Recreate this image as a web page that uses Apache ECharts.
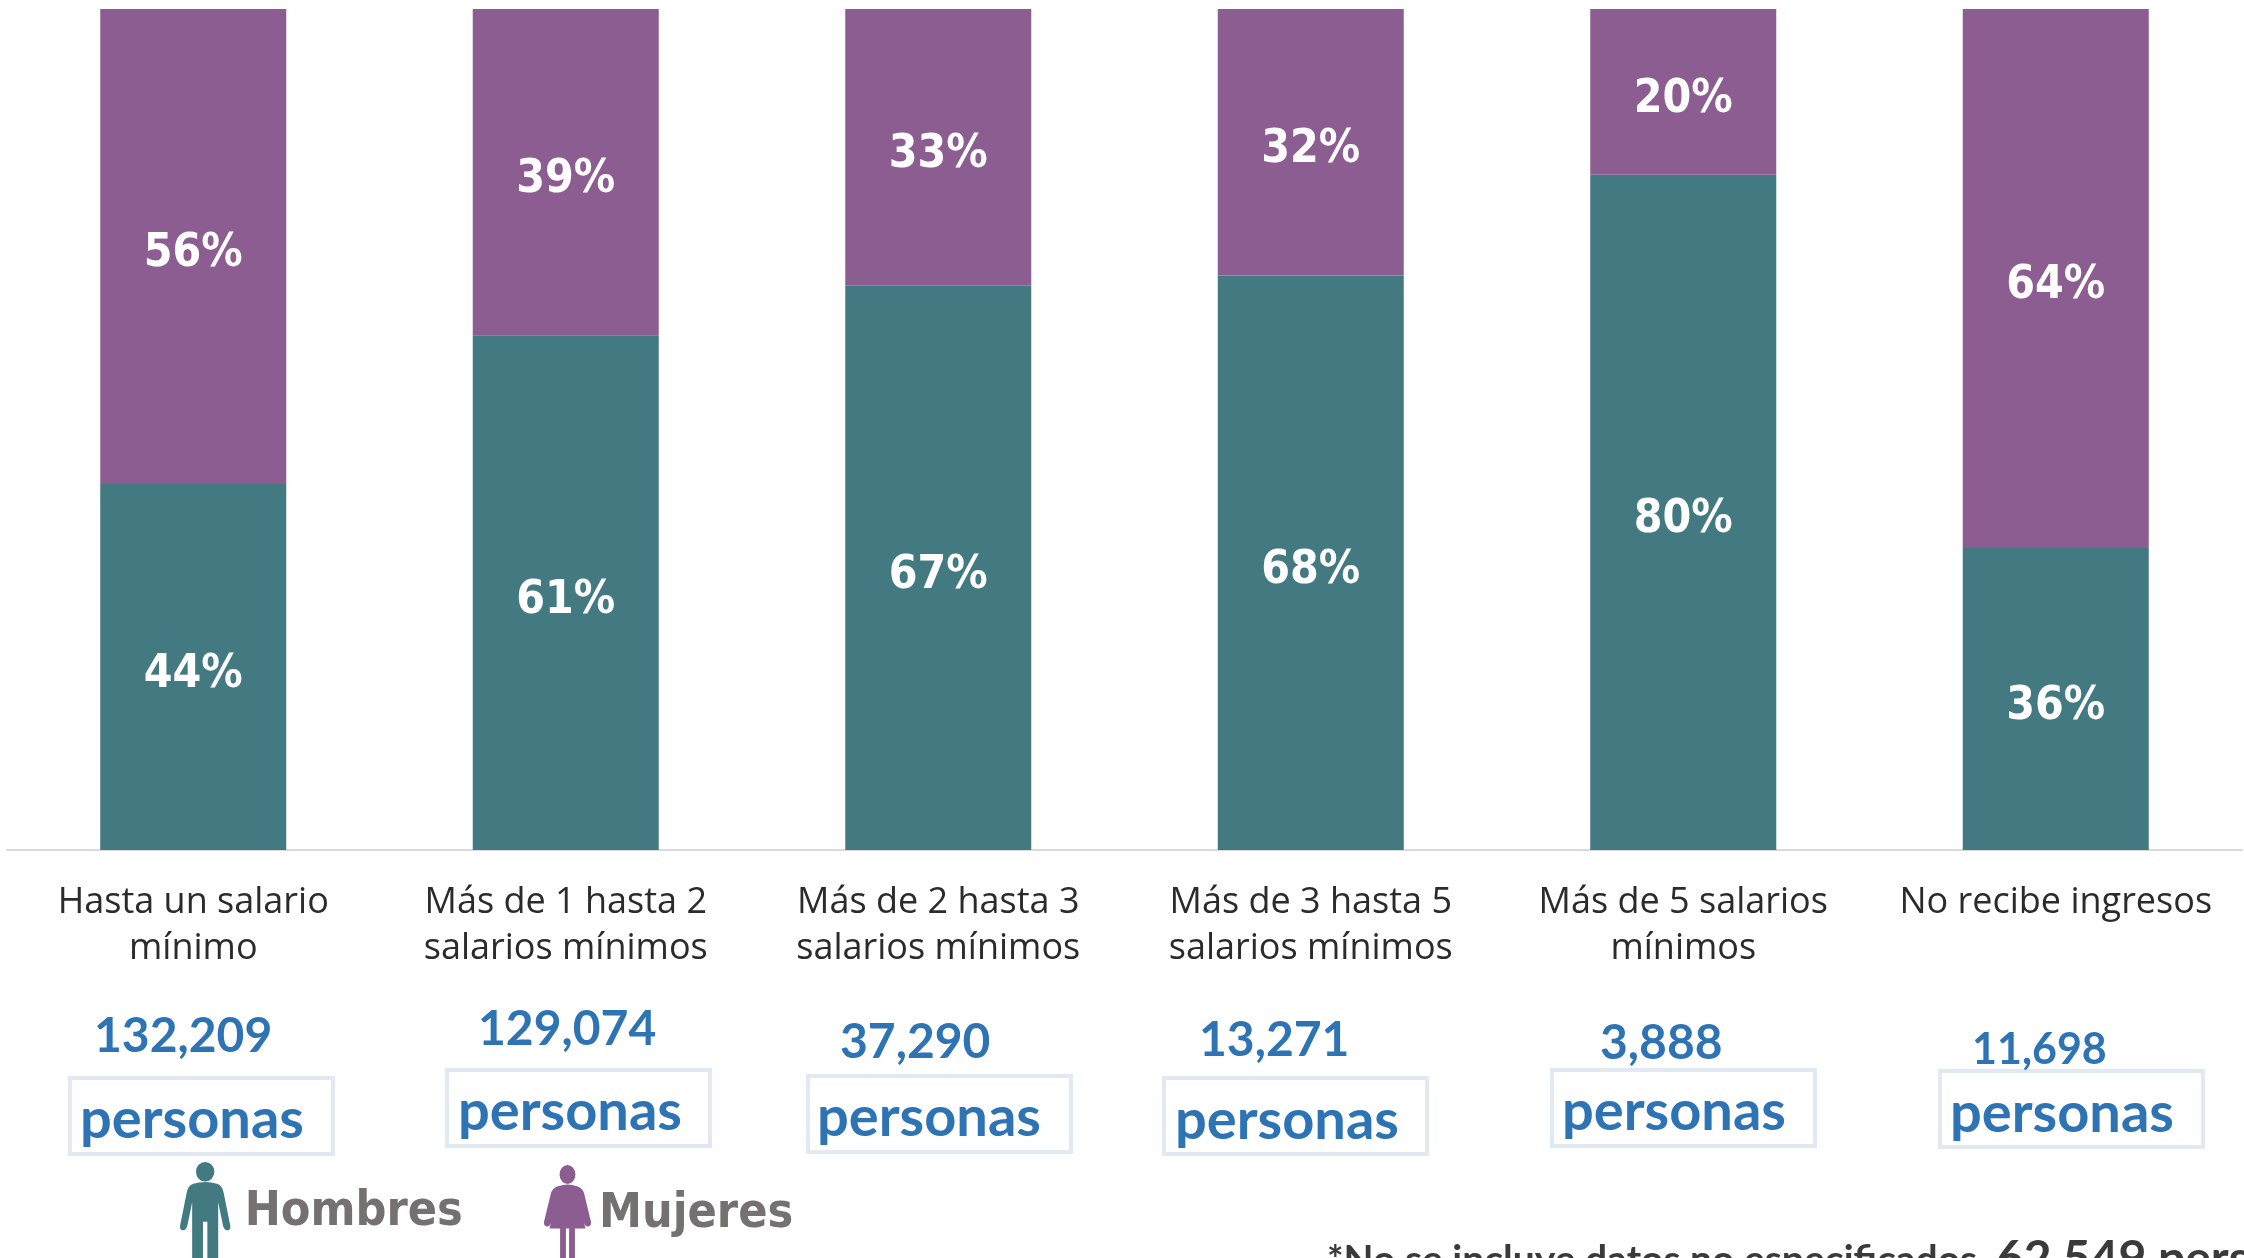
<!DOCTYPE html>
<html><head><meta charset="utf-8">
<style>html,body{margin:0;padding:0;background:#fff;overflow:hidden}#c{width:2244px;height:1258px}</style>
<script src="https://cdn.jsdelivr.net/npm/echarts@6/dist/echarts.min.js"></script>
</head><body><div id="c"></div>
<script>
const categories = ['Hasta un salario\nmínimo','Más de 1 hasta 2\nsalarios mínimos','Más de 2 hasta 3\nsalarios mínimos','Más de 3 hasta 5\nsalarios mínimos','Más de 5 salarios\nmínimos','No recibe ingresos'];
const hombres = [43.51,61.2,67.1,68.3,80.3,35.9];
const mujeres = [56.49,38.8,32.9,31.7,19.7,64.1];
const counts = ['132,209','129,074','37,290','13,271','3,888','11,698'];
const countSize = [48,48,48,48,48,43];
const countX = [94,478,840,1199,1600,1972];
const countY = [1037,1030,1043,1041,1044,1050];
const wordX = [80,458,817,1175,1562,1950];
const wordY = [1120,1112,1118,1121,1112,1114];
const boxX = [70,447,808,1164,1552,1940];
const boxY = [1078,1070,1076,1078,1070,1071];
const boxW = 263, boxH = 76;
const note = ['*No se incluye datos no especificados, ','62,549 personas'];
const TEAL='#437a82', PURPLE='#8c5d91', BLUE='#2e74b5';
const NARROW="'DejaVu Sans Condensed', 'Roboto', sans-serif";
const manIcon='path://M50 2a17 18 0 1 0 .01 0zM28 42Q50 36 72 42Q82 46 84 58L96 118Q98 128 90 128Q86 128 83 120L74 76L74 190L54 190L54 112L46 112L46 190L26 190L26 76L17 120Q14 128 10 128Q2 128 4 118L16 58Q18 46 28 42Z';
const womanIcon='path://M50 2a15 18 0 1 0 .01 0zM32 42Q50 36 68 42Q80 46 82 58L94 108Q96 118 88 118Q83 118 81 110L70 66L84 122L64 122L64 190L53 190L53 122L47 122L47 190L36 190L36 122L16 122L30 66L19 110Q17 118 12 118Q4 118 6 108L18 58Q20 46 32 42Z';
const pctLabel={show:true,position:'inside',offset:[0,8],color:'#fff',fontFamily:NARROW,fontWeight:'bold',fontSize:46,formatter:p=>Math.round(p.value)+'%'};
const graphic=[];
counts.forEach((c,i)=>{
  graphic.push({type:'rect',shape:{x:boxX[i],y:boxY[i],width:boxW,height:boxH},style:{fill:'transparent',stroke:'#e3e9f3',lineWidth:4}});
  graphic.push({type:'text',x:countX[i],y:countY[i],style:{text:c,fill:BLUE,font:'bold '+countSize[i]+'px Lato',textVerticalAlign:'middle'}});
  graphic.push({type:'text',x:wordX[i],y:wordY[i],style:{text:'personas',fill:BLUE,font:'bold 56px Lato',textVerticalAlign:'middle'}});
});
graphic.push({type:'text',x:1327,y:1260,style:{text:'{a|'+note[0]+'}{b|'+note[1]+'}',textVerticalAlign:'middle',rich:{a:{font:'bold 39px Lato',fill:'#3a3a3a'},b:{font:'bold 48px Lato',fill:'#3a3a3a'}}}});
const legendText=(left)=>({color:'#767171',fontFamily:NARROW,fontWeight:'bold',fontSize:48,padding:[22,0,0,left]});
const legendBase={orient:'horizontal',selectedMode:false,itemHeight:102,itemGap:0,padding:0};
const chart=echarts.init(document.getElementById('c'),null,{renderer:'canvas'});
chart.setOption({
  animation:false,backgroundColor:'#fff',
  grid:{left:7,right:2,top:9,bottom:408,containLabel:false},
  legend:[
    Object.assign({},legendBase,{data:[{name:'Hombres',icon:manIcon}],left:180,top:1162,itemWidth:53,textStyle:legendText(8)}),
    Object.assign({},legendBase,{data:[{name:'Mujeres',icon:womanIcon}],left:544,top:1165,itemWidth:47,textStyle:legendText(3)})
  ],
  xAxis:{type:'category',data:categories,axisTick:{show:false},axisLine:{lineStyle:{color:'#d9d9d9',width:2}},
    axisLabel:{color:'#2b2b2b',fontFamily:'Open Sans',fontSize:36,lineHeight:46,margin:30,interval:0}},
  yAxis:{type:'value',min:0,max:100,show:false,splitLine:{show:false}},
  series:[
    {name:'Hombres',type:'bar',stack:'t',barWidth:186,data:hombres,itemStyle:{color:TEAL},label:pctLabel},
    {name:'Mujeres',type:'bar',stack:'t',barWidth:186,data:mujeres,itemStyle:{color:PURPLE},label:pctLabel}
  ],
  graphic:graphic
});
</script></body></html>
